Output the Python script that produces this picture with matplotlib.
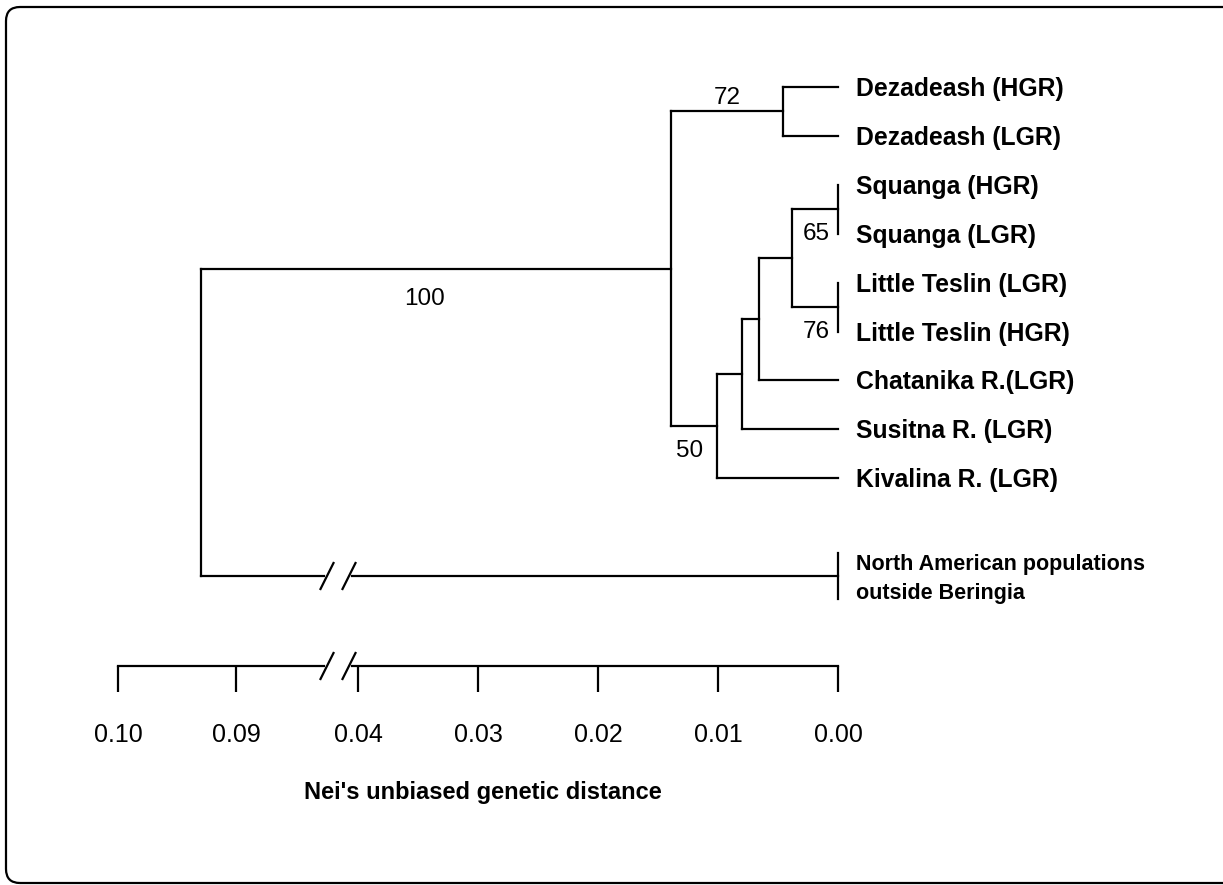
"""
UPGMA dendrogram of Beringian populations, Nei's unbiased genetic distance,
drawn on a broken distance axis.
"""

import numpy as np
import matplotlib
matplotlib.use('Agg')
import matplotlib.pyplot as plt
from matplotlib.patches import FancyBboxPatch
from matplotlib.transforms import IdentityTransform

plt.rcParams['font.family'] = ['Liberation Sans', 'DejaVu Sans']

# leaves, top to bottom
leaves = ['Dezadeash (HGR)', 'Dezadeash (LGR)', 'Squanga (HGR)', 'Squanga (LGR)',
          'Little Teslin (LGR)', 'Little Teslin (HGR)', 'Chatanika R.(LGR)',
          'Susitna R. (LGR)', 'Kivalina R. (LGR)']
outgroup = 'North American populations\noutside Beringia'

# internal nodes (joined in this order), their children, distance and bootstrap
node_names = ['dez', 'squ', 'lit', 'squ_lit', 'chat', 'sus', 'kiv', 'beringia', 'root']
node_children = [
    ['Dezadeash (HGR)', 'Dezadeash (LGR)'],
    ['Squanga (HGR)', 'Squanga (LGR)'],
    ['Little Teslin (LGR)', 'Little Teslin (HGR)'],
    ['squ', 'lit'],
    ['squ_lit', 'Chatanika R.(LGR)'],
    ['chat', 'Susitna R. (LGR)'],
    ['sus', 'Kivalina R. (LGR)'],
    ['dez', 'kiv'],
    ['beringia', outgroup],
]
node_dist = [0.0046, 0.0, 0.0, 0.0038, 0.0066, 0.0080, 0.0101, 0.0139, 0.0930]
node_support = ['72', '65', '76', '', '', '', '50', '100', '']

ticks = [0.10, 0.09, 0.04, 0.03, 0.02, 0.01, 0.00]
tick_labels = ['0.10', '0.09', '0.04', '0.03', '0.02', '0.01', '0.00']
xlabel = "Nei's unbiased genetic distance"

# broken distance scale: 0.0405..0.082 squeezed into the break
D_KNOTS = [-0.1, 0.0, 0.0405, 0.082, 0.10, 0.3]
Q_KNOTS = [-1200.0, 0.0, 486.0, 507.6, 720.0, 3080.0]


def fwd(d):
    return np.interp(d, D_KNOTS, Q_KNOTS)


def inv(q):
    return np.interp(q, Q_KNOTS, D_KNOTS)


LW = 1.6
Q_BREAK = 500.0   # centre of the break, scale units (= pixels)
ROW = 48.9        # pixels per leaf row

fig = plt.figure(figsize=(12.23, 8.85), dpi=100)
ax = fig.add_axes([0, 0, 1, 1])
ax.set_xscale('function', functions=(fwd, inv))
ax.set_xlim(inv(838), inv(838 - 1223))
ax.set_ylim((885 - 87) / ROW, -87 / ROW)
for s in ['left', 'right', 'top']:
    ax.spines[s].set_visible(False)
ax.set_yticks([])
ax.patch.set_alpha(0)


def broken_hline(d0, d1, y):
    # horizontal line from d0 to d1 with a // break mark
    q0, q1 = sorted([fwd(d0), fwd(d1)])
    ax.plot([inv(q0), inv(Q_BREAK - 14)], [y, y], color='k', lw=LW)
    ax.plot([inv(Q_BREAK + 14), inv(q1)], [y, y], color='k', lw=LW)
    dy = 13 / ROW
    for qc in [Q_BREAK - 11, Q_BREAK + 11]:
        ax.plot([inv(qc + 6.5), inv(qc - 6.5)], [y + dy, y - dy], color='k', lw=LW)


pos = {name: (0.0, i) for i, name in enumerate(leaves)}
pos[outgroup] = (0.0, len(leaves) + 1)

for name, children, d, sup in zip(node_names, node_children, node_dist, node_support):
    ys = [pos[c][1] for c in children]
    y = (min(ys) + max(ys)) / 2
    pos[name] = (d, y)
    ax.plot([d, d], [min(ys), max(ys)], color='k', lw=LW)
    for c in children:
        cd, cy = pos[c]
        if c == outgroup:
            broken_hline(d, cd, cy)
        else:
            ax.plot([d, cd], [cy, cy], color='k', lw=LW)

# bootstrap values
parent = {c: n for n, ch in zip(node_names, node_children) for c in ch}
for name, children, d, sup in zip(node_names, node_children, node_dist, node_support):
    if not sup:
        continue
    x, y = pos[name]
    if name in ('dez', 'beringia'):
        pd = pos[parent[name]][0]
        xm = inv((fwd(pd) + fwd(x)) / 2)
        if name == 'dez':
            ax.annotate(sup, (xm, y), xytext=(0, 2), textcoords='offset points',
                        ha='center', va='bottom', fontsize=17.5)
        else:
            ax.annotate(sup, (xm, y), xytext=(-8, -22), textcoords='offset points',
                        ha='center', va='center', fontsize=17.5)
    elif name in ('squ', 'lit'):
        ax.annotate(sup, (x, pos[children[1]][1]), xytext=(-6, 0), textcoords='offset points',
                    ha='right', va='center', fontsize=17.5)
    else:
        ax.annotate(sup, (x, y), xytext=(-10, -18), textcoords='offset points',
                    ha='right', va='center', fontsize=17.5)

# leaf labels
for name in leaves:
    ax.annotate(name, pos[name], xytext=(13, -1.5), textcoords='offset points',
                ha='left', va='center', fontsize=17.8, fontweight='bold')
oy = pos[outgroup][1]
ax.plot([0, 0], [oy - 0.47, oy + 0.47], color='k', lw=LW)
ax.annotate(outgroup, (0, oy), xytext=(13, -2.5), textcoords='offset points',
            ha='left', va='center', fontsize=15.5, fontweight='bold', linespacing=1.5)

# scale bar
axis_y = (666 - 87) / ROW
broken_hline(ticks[0], ticks[-1], axis_y)
ax.spines['bottom'].set_position(('data', axis_y))
ax.spines['bottom'].set_visible(False)
ax.set_xticks(ticks, tick_labels)
ax.xaxis.set_minor_locator(matplotlib.ticker.NullLocator())
ax.tick_params(axis='x', direction='out', length=18.7, width=LW, pad=22,
               labelsize=18, color='k')
fig.text(483 / 1223, 1 - 792 / 885, xlabel, ha='center', va='center',
         fontsize=17, fontweight='bold')

# rounded frame of the original figure (right edge falls outside the picture)
frame = FancyBboxPatch((6, 2), 1245, 876, boxstyle='round,pad=0,rounding_size=14',
                       transform=IdentityTransform(), fill=False, ec='k', lw=1.6)
fig.patches.append(frame)

fig.savefig('out.png', dpi=100)
